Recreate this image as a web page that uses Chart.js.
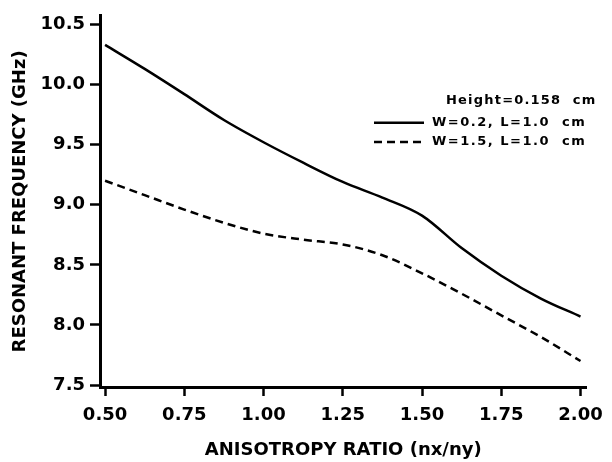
<!DOCTYPE html>
<html>
<head>
<meta charset="utf-8">
<script src="https://cdn.jsdelivr.net/npm/chart.js@4/dist/chart.umd.min.js"></script>
<style>
html,body{margin:0;padding:0;background:#fff;}
#wrap{width:612px;height:462px;}
</style>
</head>
<body>
<div id="wrap"><canvas id="c" width="612" height="462"></canvas></div>
<script>
// ---- data ----
const ratio = [0.5, 0.625, 0.75, 0.875, 1.0, 1.125, 1.25, 1.375, 1.5, 1.625, 1.75, 1.875, 2.0];
const freqNarrow = [10.33, 10.13, 9.92, 9.705, 9.52, 9.35, 9.19, 9.06, 8.91, 8.64, 8.41, 8.22, 8.07]; // W=0.2
const freqWide   = [9.20, 9.08, 8.96, 8.85, 8.76, 8.71, 8.67, 8.58, 8.43, 8.26, 8.08, 7.90, 7.70];   // W=1.5
const xTickValues = [0.5, 0.75, 1.0, 1.25, 1.5, 1.75, 2.0];
const yTickValues = [7.5, 8.0, 8.5, 9.0, 9.5, 10.0, 10.5];
const seriesLabels = ['W=0.2, L=1.0  cm', 'W=1.5, L=1.0  cm'];
const legendTitle = 'Height=0.158  cm';
const xTitle = 'ANISOTROPY RATIO (nx/ny)';
const yTitle = 'RESONANT FREQUENCY (GHz)';

const FONT = '"DejaVu Sans", "Liberation Sans", sans-serif';

const legendPlugin = {
  id: 'inlineLegend',
  afterDraw(chart) {
    const ctx = chart.ctx;
    ctx.save();
    ctx.fillStyle = '#000';
    ctx.strokeStyle = '#000';
    ctx.font = 'bold 13px ' + FONT;
    ctx.textBaseline = 'middle';
    ctx.textAlign = 'left';
    ctx.letterSpacing = '1.2px';
    ctx.fillText(legendTitle, 446, 101);
    ctx.letterSpacing = '1.5px';
    const ds = chart.data.datasets;
    const rows = [122.7, 142];
    ds.forEach((d, i) => {
      const y = rows[i];
      ctx.beginPath();
      ctx.lineWidth = 2.5;
      ctx.setLineDash(d.borderDash || []);
      ctx.moveTo(374, y);
      ctx.lineTo(424, y);
      ctx.stroke();
      ctx.setLineDash([]);
      ctx.fillText(d.label, 432, y);
    });
    ctx.restore();
  }
};

new Chart(document.getElementById('c'), {
  type: 'line',
  data: {
    datasets: [
      {
        label: seriesLabels[0],
        data: ratio.map((x, i) => ({x, y: freqNarrow[i]})),
        borderColor: '#000',
        borderWidth: 2.5,
        pointRadius: 0,
        cubicInterpolationMode: 'monotone',
        fill: false
      },
      {
        label: seriesLabels[1],
        data: ratio.map((x, i) => ({x, y: freqWide[i]})),
        borderColor: '#000',
        borderWidth: 2.5,
        borderDash: [8, 5],
        pointRadius: 0,
        cubicInterpolationMode: 'monotone',
        fill: false
      }
    ]
  },
  options: {
    responsive: false,
    animation: false,
    devicePixelRatio: 1,
    layout: { padding: { top: 12, right: 24, left: 0, bottom: 0 } },
    plugins: { legend: { display: false }, tooltip: { enabled: false } },
    scales: {
      x: {
        type: 'linear',
        min: 0.484,
        max: 2.019,
        afterBuildTicks: s => { s.ticks = xTickValues.map(v => ({value: v})); },
        afterFit: s => { s.height = 75; },
        ticks: {
          color: '#000',
          font: { family: FONT, size: 18, weight: 'bold' },
          padding: 9,
          maxRotation: 0,
          callback: v => Number(v).toFixed(2)
        },
        grid: { drawOnChartArea: false, tickLength: 9, tickWidth: 2.5, color: '#000' },
        border: { color: '#000', width: 3 },
        title: {
          display: true,
          text: xTitle,
          color: '#000',
          font: { family: FONT, size: 18, weight: 'bold' },
          padding: { top: 0, bottom: 1 }
        }
      },
      y: {
        type: 'linear',
        min: 7.484,
        max: 10.572,
        afterBuildTicks: s => { s.ticks = yTickValues.map(v => ({value: v})); },
        afterFit: s => { s.width = 100; },
        ticks: {
          color: '#000',
          font: { family: FONT, size: 18, weight: 'bold' },
          padding: 5,
          callback: v => Number(v).toFixed(1)
        },
        grid: { drawOnChartArea: false, tickLength: 10, tickWidth: 2.5, color: '#000' },
        border: { color: '#000', width: 3 },
        title: {
          display: true,
          text: yTitle,
          color: '#000',
          font: { family: FONT, size: 18, weight: 'bold' },
          padding: { top: 10, bottom: 0 }
        }
      }
    }
  },
  plugins: [legendPlugin]
});
</script>
</body>
</html>
